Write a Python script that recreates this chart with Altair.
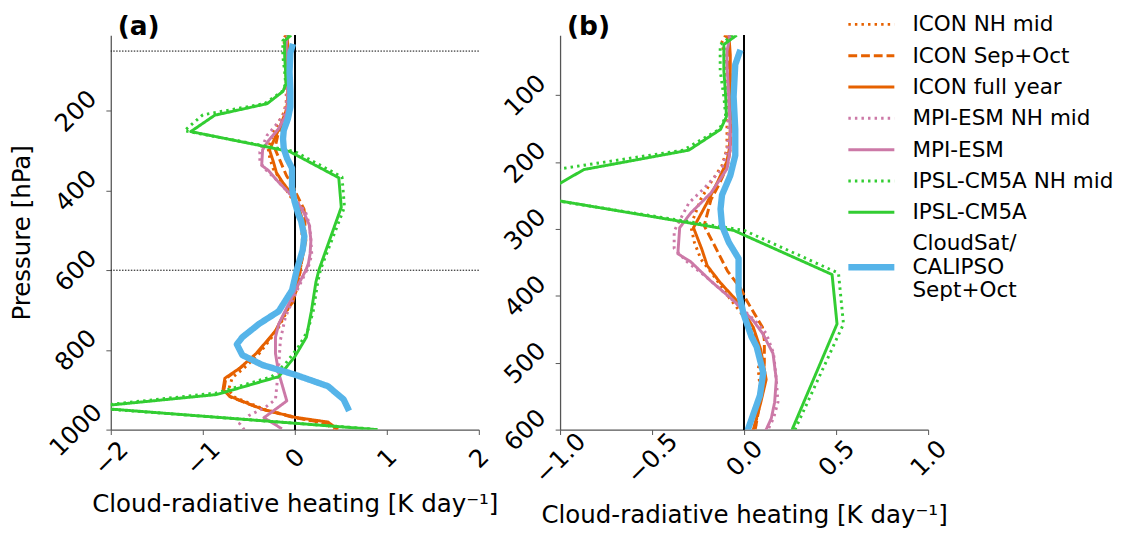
import altair as alt
import pandas as pd

# ---------------- data ----------------
series_order = ["ICON NH mid", "ICON Sep+Oct", "ICON full year", "MPI-ESM NH mid",
                "MPI-ESM", "IPSL-CM5A NH mid", "IPSL-CM5A", "CloudSat/|CALIPSO|Sept+Oct"]
series_colors = ["#E66100", "#E66100", "#E66100", "#CC79A7", "#CC79A7",
                 "#32CD32", "#32CD32", "#56B4E9"]
series_dash = [[2.5, 4.2], [9, 4], [1, 0], [2.5, 4.2], [1, 0], [2.5, 4.2], [1, 0], [1, 0]]
series_width = [3, 3, 3, 3, 3, 3, 3, 6.5]

icon_nh_p = [10, 20, 55, 100, 150, 180, 205, 230, 255, 295, 320, 345, 368, 403, 442, 486, 510,
             535, 560, 600, 650, 700, 750, 810, 845, 870, 900, 918, 950, 970, 985, 1000]
icon_nh_v = [-0.10, -0.12, -0.10, -0.095, -0.093, -0.093, -0.12, -0.18, -0.235, -0.29, -0.27,
             -0.235, -0.17, -0.08, 0.03, 0.09, 0.077, 0.086, 0.08, 0.06, 0.02, -0.08, -0.19,
             -0.39, -0.55, -0.68, -0.72, -0.66, -0.32, 0.02, 0.33, 0.43]

icon_so_p = [10, 20, 55, 100, 150, 180, 205, 230, 256, 295, 325, 363, 388, 407, 447, 466, 500,
             540, 600, 650, 700, 750, 810, 845, 872, 900, 918, 950, 970, 985, 1000]
icon_so_v = [-0.09, -0.09, -0.08, -0.07, -0.07, -0.075, -0.09, -0.13, -0.18, -0.217, -0.16,
             -0.09, -0.02, 0.014, 0.10, 0.11, 0.11, 0.10, 0.06, 0.02, -0.09, -0.20, -0.41,
             -0.59, -0.75, -0.77, -0.70, -0.34, 0.0, 0.37, 0.47]

icon_fy_p = [10, 20, 40, 100, 150, 180, 200, 230, 260, 298, 330, 355, 380, 407, 447, 480, 525,
             560, 600, 650, 680, 703, 752, 809, 846, 871, 899, 916, 949, 969, 981, 998]
icon_fy_v = [-0.08, -0.08, -0.075, -0.075, -0.075, -0.08, -0.095, -0.145, -0.20, -0.275, -0.23,
             -0.20, -0.13, -0.04, 0.05, 0.09, 0.12, 0.09, 0.05, 0.01, -0.02, -0.10, -0.21,
             -0.42, -0.60, -0.76, -0.78, -0.71, -0.35, 0.0, 0.36, 0.46]

mpi_nh_p = [10, 34, 54, 102, 151, 180, 210, 239, 261, 303, 329, 349, 373, 407, 437, 456, 486,
            525, 559, 583, 600, 653, 719, 776, 842, 924, 944, 965, 985, 1000]
mpi_nh_v = [-0.08, -0.10, -0.10, -0.09, -0.085, -0.09, -0.12, -0.217, -0.30, -0.38, -0.38,
            -0.31, -0.20, -0.06, 0.06, 0.12, 0.16, 0.175, 0.184, 0.16, 0.13, 0.02, -0.104,
            -0.157, -0.175, -0.21, -0.32, -0.50, -0.60, -0.55]

mpi_p = [10, 34, 54, 102, 151, 180, 210, 246, 276, 298, 337, 349, 378, 407, 437, 456, 486, 525,
         559, 583, 600, 653, 686, 735, 768, 809, 858, 928, 949, 970, 998]
mpi_v = [-0.075, -0.093, -0.093, -0.083, -0.075, -0.075, -0.093, -0.18, -0.29, -0.35, -0.36,
         -0.29, -0.18, -0.057, 0.05, 0.10, 0.157, 0.175, 0.166, 0.148, 0.12, 0.0, -0.07,
         -0.175, -0.21, -0.21, -0.175, -0.087, -0.21, -0.335, -0.14]

ipsl_nh_p = [10, 24, 63, 102, 132, 151, 182, 210, 250, 302, 366, 442, 598, 629, 703, 752, 793,
             834, 867, 908, 944, 998]
ipsl_nh_v = [-0.06, -0.13, -0.13, -0.11, -0.10, -0.135, -0.33, -1.0, -1.2, 0.0, 0.513, 0.54,
             0.28, 0.25, 0.20, 0.14, 0.037, -0.10, -0.25, -0.85, -2.3, 0.82]

ipsl_p = [10, 24, 63, 102, 132, 151, 182, 211, 252, 302, 368, 442, 598, 629, 703, 768, 817,
          867, 912, 944, 1000]
ipsl_v = [-0.04, -0.11, -0.11, -0.10, -0.096, -0.128, -0.30, -0.87, -1.13, -0.057, 0.478, 0.505,
          0.264, 0.23, 0.18, 0.126, 0.0, -0.175, -0.85, -2.25, 0.90]

cs_p = [32, 54, 102, 151, 190, 220, 249, 270, 295, 320, 344, 393, 427, 461, 476, 515, 549, 598,
        650, 703, 735, 768, 786, 813, 838, 862, 891, 924, 953]
cs_v = [-0.02, -0.048, -0.057, -0.048, -0.048, -0.075, -0.12, -0.128, -0.12, -0.083, -0.03,
        -0.03, -0.003, 0.04, 0.068, 0.104, 0.086, 0.023, -0.03, -0.175, -0.39, -0.57, -0.63,
        -0.57, -0.35, 0.0, 0.36, 0.53, 0.59]

hline_p = [50, 600]

# ---------------- build table ----------------
profiles = [(icon_nh_p, icon_nh_v), (icon_so_p, icon_so_v), (icon_fy_p, icon_fy_v),
            (mpi_nh_p, mpi_nh_v), (mpi_p, mpi_v), (ipsl_nh_p, ipsl_nh_v),
            (ipsl_p, ipsl_v), (cs_p, cs_v)]
rows = []
for name, w, (ps, vs) in zip(series_order, series_width, profiles):
    for i, (p, v) in enumerate(zip(ps, vs)):
        rows.append({"series": name, "p": p, "v": v, "idx": i, "w": w})
df = pd.DataFrame(rows)
hdf = pd.DataFrame({"p": hline_p})

FONT = "DejaVu Sans"
XTITLE = "Cloud-radiative heating [K day\u207b\u00b9]"
IS_CS = "datum.value == 'CloudSat/|CALIPSO|Sept+Oct'"


def panel(xdom, xvals, xfmt, ydom, yvals, ytitle, label, show_legend, hlines, xtitle_pad):
    xscale = alt.Scale(domain=xdom, nice=False, zero=False)
    yscale = alt.Scale(domain=ydom, reverse=True, nice=False, zero=False)
    xaxis = alt.Axis(values=xvals, format=xfmt, title=XTITLE, labelAngle=-45,
                     labelAlign="center", labelBaseline="middle", labelPadding=24,
                     titlePadding=xtitle_pad)
    yaxis = alt.Axis(values=yvals, format="d", title=ytitle, labelAngle=-45,
                     labelAlign="center", labelBaseline="middle", labelPadding=31,
                     titlePadding=11)
    if show_legend:
        leg = alt.Legend(orient="none", legendX=307, legendY=-22, title=None,
                         labelFontSize=22, labelFont=FONT, labelLimit=0,
                         symbolType=alt.ExprRef(IS_CS + " ? 'M-4,4.1H4' : 'M-4,0H4'"),
                         symbolStrokeWidth=alt.ExprRef(IS_CS + " ? 6.5 : 3"),
                         symbolSize=138,
                         labelOffset=31, rowPadding=10,
                         labelExpr="split(datum.label, '|')")
    else:
        leg = None
    zero = alt.Chart(df).mark_rule(color="black", strokeWidth=1.2).encode(
        x=alt.datum(0, scale=xscale))
    lines = alt.Chart(df).mark_line(clip=True, strokeCap="butt", strokeJoin="round").encode(
        x=alt.X("v:Q", scale=xscale, axis=xaxis),
        y=alt.Y("p:Q", scale=yscale, axis=yaxis),
        color=alt.Color("series:N", scale=alt.Scale(domain=series_order, range=series_colors),
                        legend=leg),
        strokeDash=alt.StrokeDash("series:N",
                                  scale=alt.Scale(domain=series_order, range=series_dash),
                                  legend=leg),
        strokeWidth=alt.StrokeWidth("w:Q", scale=None, legend=None),
        order=alt.Order("idx:Q"),
    )
    tag = alt.Chart(pd.DataFrame({"t": [label]})).mark_text(
        font=FONT, fontSize=27, fontWeight="bold", align="left", baseline="alphabetic",
        color="black").encode(text="t:N", x=alt.value(7), y=alt.value(0))
    layers = [zero]
    if hlines:
        layers.append(alt.Chart(hdf).mark_rule(color="black", strokeWidth=1,
                                               strokeDash=[1.5, 1.5]).encode(
            y=alt.Y("p:Q", scale=yscale)))
    layers += [lines, tag]
    return alt.layer(*layers).properties(width=376, height=403)


pa = panel([-2, 2], [-2, -1, 0, 1, 2], "d", [10, 1000], [200, 400, 600, 800, 1000],
           "Pressure [hPa]", "(a)", False, True, 12)
pb = panel([-1, 1], [-1, -0.5, 0, 0.5, 1], ".1f", [10, 600], [100, 200, 300, 400, 500, 600],
           None, "(b)", True, False, 15)

chart = alt.hconcat(pa, pb, spacing=83, bounds="flush").resolve_scale(
    x="independent", y="independent", color="independent", strokeDash="independent"
).resolve_legend(color="independent", strokeDash="independent"
).properties(padding={"left": 2, "top": 0, "right": 5, "bottom": 5}
).configure_view(stroke=None).configure_axis(
    labelFont=FONT, titleFont=FONT, labelFontSize=25, titleFontSize=25,
    labelColor="black", titleColor="black", titleFontWeight="normal",
    domainColor="#555", tickColor="#555", tickSize=5, grid=False, domainWidth=1.3
).configure_legend(labelColor="black")

chart.save("out.html", embed_options={"renderer": "svg", "actions": False})
